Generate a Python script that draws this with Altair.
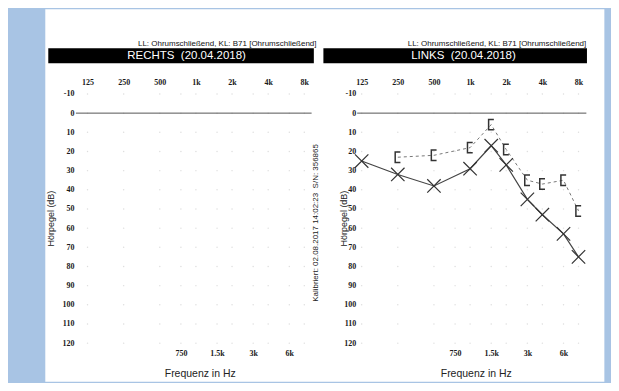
import altair as alt
import pandas as pd

# ---- data (LINKS panel) ----
air_freq = [125, 250, 500, 1000, 1500, 2000, 3000, 4000, 6000, 8000]
air_db = [25, 32, 38, 29, 17, 27, 45, 53, 63, 75]
bone_freq = [250, 500, 1000, 1500, 2000, 3000, 4000, 6000, 8000]
bone_db = [23, 22, 18, 6, 19, 35, 37, 35, 51]

# ---- axis ticks / texts ----
top_ticks = [125, 250, 500, 1000, 2000, 4000, 8000]
bottom_ticks = [750, 1500, 3000, 6000]
db_ticks = [-10, 0, 10, 20, 30, 40, 50, 60, 70, 80, 90, 100, 110, 120]
header_text = "LL: Ohrumschließend, KL: B71 [Ohrumschließend]"
panel_titles = ["RECHTS\u00a0\u00a0(20.04.2018)", "LINKS\u00a0\u00a0(20.04.2018)"]
calib_text = "Kalibriert: 02.08.2017 14:02:23\u00a0\u00a0S/N: 356865"

H = 258.24
BLUE = "#a8c4e4"
LBL = dict(labelFont="Liberation Serif", labelFontWeight="bold", labelFontSize=8,
           labelColor="#1a1a1a", labelFlush=False, labelOverlap=False, ticks=False,
           domain=False, grid=False, zindex=1)
kexpr = "datum.value >= 1000 ? format(datum.value/1000, '~g') + 'k' : format(datum.value, 'd')"
yexpr = "datum.value < 0 ? '-' + abs(datum.value) : '' + datum.value"

yscale = alt.Scale(domain=[-12.5, 122], reverse=True, nice=False, zero=False)

top_grid = pd.DataFrame([(f, d) for f in top_ticks for d in db_ticks], columns=["freq", "db"])
half_grid = pd.DataFrame([(f, d) for f in bottom_ticks for d in db_ticks], columns=["freq", "db"])
one = pd.DataFrame({"a": [0]})


def panel(idx, dom, width, hdr_x, bar_x1, bar_x2, title_x, first, ypad, ytitle_x, title_shift):
    xscale = alt.Scale(type="log", domain=dom, nice=False)
    yaxis_kw = dict(values=db_ticks, labelExpr=yexpr, labelPadding=ypad, title="Hörpegel (dB)",
                    titleFont="Liberation Sans", titleFontSize=9, titleFontWeight="normal",
                    titleColor="#222", **LBL)
    if ytitle_x is None:
        yaxis_kw["titlePadding"] = 6
    else:
        yaxis_kw["titleX"] = ytitle_x
    Y = alt.Y("db:Q", scale=yscale, axis=alt.Axis(**yaxis_kw))
    X_none = alt.X("freq:Q", scale=xscale, axis=None)
    layers = []
    if first:
        layers.append(alt.Chart(one).mark_rect(color=BLUE).encode(
            x=alt.value(-67.65), x2=alt.value(535.35), y=alt.value(-81), y2=alt.value(294)))
        layers.append(alt.Chart(one).mark_rect(color="white").encode(
            x=alt.value(-30.65), x2=alt.value(529.35), y=alt.value(-80), y2=alt.value(293)))
    layers.append(alt.Chart(top_grid).mark_circle(size=2, color="#d4d4d4", opacity=0.8).encode(
        x=alt.X("freq:Q", scale=xscale, axis=alt.Axis(orient="top", values=top_ticks, labelExpr=kexpr,
                                                      labelPadding=3, title=None, **LBL)),
        y=Y))
    layers.append(alt.Chart(half_grid).mark_circle(size=2, color="#d4d4d4", opacity=0.8).encode(
        x=alt.X("freq:Q", scale=xscale, axis=alt.Axis(orient="bottom", values=bottom_ticks, labelExpr=kexpr,
                                                      labelPadding=3, title="Frequenz in Hz",
                                                      titleFont="Liberation Sans", titleFontSize=10.5,
                                                      titleFontWeight="normal", titleColor="#222",
                                                      titlePadding=11, titleX=width / 2 + title_shift,
                                                      **LBL)),
        y=Y))
    layers.append(alt.Chart(pd.DataFrame({"db": [0]})).mark_rule(color="#555", strokeWidth=1).encode(y=Y))
    layers.append(alt.Chart(one).mark_text(text=header_text, font="Liberation Sans", fontSize=8,
                                           align="right", baseline="middle", color="#111").encode(
        x=alt.value(hdr_x), y=alt.value(-45.5)))
    layers.append(alt.Chart(one).mark_rect(color="black").encode(
        x=alt.value(bar_x1), x2=alt.value(bar_x2), y=alt.value(-41), y2=alt.value(-26)))
    layers.append(alt.Chart(one).mark_text(text=panel_titles[idx], font="Liberation Sans", fontSize=11.5,
                                           align="center", baseline="middle", color="white").encode(
        x=alt.value(title_x), y=alt.value(-33.5)))
    if not first:
        air = pd.DataFrame({"freq": air_freq, "db": air_db})
        bone = pd.DataFrame({"freq": bone_freq, "db": bone_db})
        layers.append(alt.Chart(bone).mark_line(color="#777", strokeWidth=1, strokeDash=[3, 3]).encode(
            x=X_none, y=Y))
        layers.append(alt.Chart(bone).mark_point(shape="M0.5,-1L-0.5,-1L-0.5,1L0.5,1", size=110,
                                                 filled=False, color="#333", strokeWidth=1.5, opacity=1).encode(
            x=X_none, y=Y))
        layers.append(alt.Chart(air).mark_line(color="#444", strokeWidth=1.2).encode(x=X_none, y=Y))
        layers.append(alt.Chart(air).mark_point(shape="M-1,-1L1,1M-1,1L1,-1", size=180, filled=False,
                                                color="#333", strokeWidth=1.2, opacity=1).encode(
            x=X_none, y=Y))
        layers.append(alt.Chart(one).mark_text(text=calib_text, font="Liberation Sans", fontSize=8,
                                               angle=270, align="center", baseline="middle",
                                               color="#222").encode(
            x=alt.value(-41.5), y=alt.value(134)))
    return alt.layer(*layers).resolve_scale(x="shared").resolve_axis(x="independent").properties(
        width=width, height=H)


left = panel(0, [100, 9200], 236.1, 241, -27.65, 238.35, 110.9, True, 2, None, 6)
right = panel(1, [114.6, 9300], 229.6, 229.5, -33.8, 230.2, 106.5, False, 1.5, -9, 4)

chart = alt.hconcat(left, right, spacing=44.72, bounds="flush").properties(
    padding=0, background=BLUE
).configure_view(stroke=None)

chart.save("out.html", embed_options={"renderer": "svg", "actions": False})
